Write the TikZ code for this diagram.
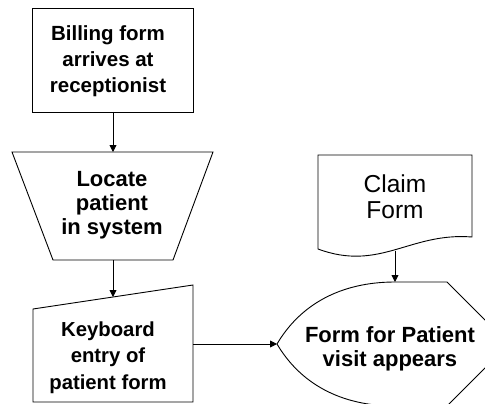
\documentclass[tikz,border=0pt]{standalone}
\usepackage{fontspec}
\setmainfont{Liberation Sans}
\usetikzlibrary{arrows.meta}
\begin{document}
\begin{tikzpicture}[x=1pt,y=-1pt,
  outline/.style={draw=black,line width=0.9pt,line join=miter,fill=white},
  flow/.style={draw=black,line width=0.9pt,-{Triangle[length=7pt,width=7pt]}},
  steplabel/.style={align=center,inner sep=0pt},
]
\useasboundingbox (0,0) rectangle (485,404);
\clip (0,0) rectangle (485,404);

% process box
\draw[outline] (32,8) rectangle (193,112);
\node[steplabel,font=\fontsize{20.5}{26}\selectfont\bfseries] (bill) at (108,61.4)
  {Billing form\\arrives at\\receptionist};
\coordinate (bill-s) at (113,112);

% manual operation (trapezium)
\draw[outline] (12,152) -- (213,152) -- (173,260) -- (53,260) -- cycle;
\node[steplabel,font=\fontsize{22}{24}\selectfont\bfseries] (locate) at (112,205)
  {Locate\\patient\\in system};
\coordinate (locate-n) at (113,152);
\coordinate (locate-s) at (113,260);

% manual input
\draw[outline] (33,309) -- (193,285) -- (193,402) -- (33,402) -- cycle;
\node[steplabel,font=\fontsize{20.3}{26.3}\selectfont\bfseries] (entry) at (108,357.7)
  {Keyboard\\entry of\\patient form};
\coordinate (entry-n) at (113,297);
\coordinate (entry-e) at (193,344);

% document
\draw[outline] (318,155) -- (472,155) -- (472,237)
  .. controls (410,232) and (380,272) .. (318,249) -- cycle;
\node[steplabel,font=\fontsize{24.5}{26}\selectfont] (claim) at (395,196.3)
  {Claim\\Form};
\coordinate (claim-s) at (395,251);

% display
\draw[outline] (277,344) .. controls (300,305) and (340,282) .. (395,282)
  -- (447,282) -- (509,344) -- (447,406) -- (395,406)
  .. controls (340,406) and (300,383) .. (277,344) -- cycle;
\node[steplabel,font=\fontsize{22}{23.5}\selectfont\bfseries] (visit) at (390,349)
  {Form for Patient\\visit appears};
\coordinate (visit-w) at (277,344);
\coordinate (visit-n) at (395,282);

% connectors
\draw[flow] (bill-s) -- (locate-n);
\draw[flow] (locate-s) -- (entry-n);
\draw[flow] (entry-e) -- (visit-w);
\draw[flow] (claim-s) -- (visit-n);
\end{tikzpicture}
\end{document}
